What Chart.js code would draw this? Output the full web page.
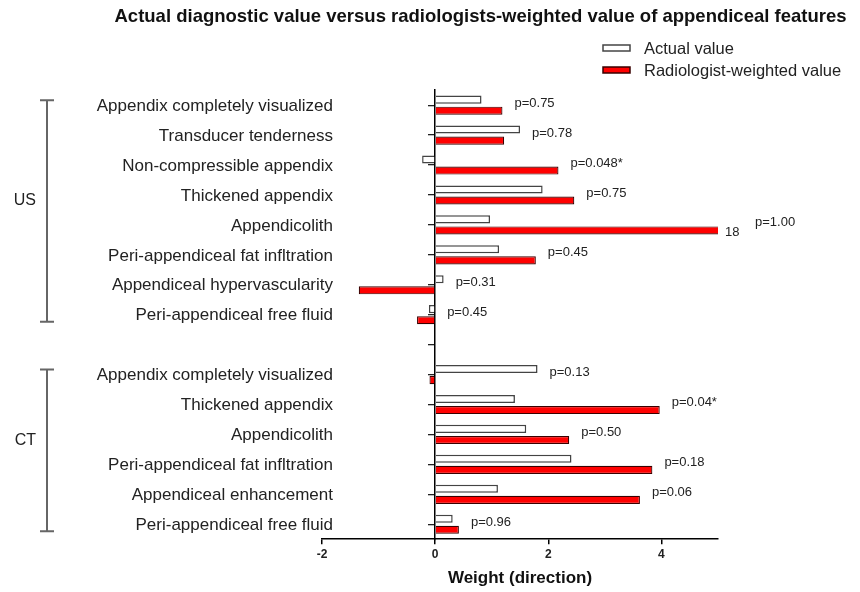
<!DOCTYPE html>
<html>
<head>
<meta charset="utf-8">
<script src="https://cdn.jsdelivr.net/npm/chart.js@4.4.1/dist/chart.umd.min.js"></script>
<style>
  html, body { margin: 0; padding: 0; background: #fff; }
  #wrap { width: 860px; height: 592px; }
</style>
</head>
<body>
<div id="wrap"><canvas id="chart"></canvas></div>
<script>
// rows top to bottom; the empty row is the gap between US and CT
const features = [
  'Appendix completely visualized', 'Transducer tenderness', 'Non-compressible appendix',
  'Thickened appendix', 'Appendicolith', 'Peri-appendiceal fat infltration',
  'Appendiceal hypervascularity', 'Peri-appendiceal free fluid',
  '',
  'Appendix completely visualized', 'Thickened appendix', 'Appendicolith',
  'Peri-appendiceal fat infltration', 'Appendiceal enhancement', 'Peri-appendiceal free fluid'
];
const actualValues = [0.82, 1.50, -0.23, 1.90, 0.97, 1.13, 0.15, -0.11, null, 1.81, 1.41, 1.61, 2.41, 1.11, 0.31];
const weightedValues = [1.19, 1.22, 2.18, 2.46, 18, 1.78, -1.35, -0.32, null, -0.10, 3.97, 2.37, 3.84, 3.62, 0.42];
const pValues = ['0.75', '0.78', '0.048*', '0.75', '1.00', '0.45', '0.31', '0.45', null,
                 '0.13', '0.04*', '0.50', '0.18', '0.06', '0.96'];
const groupNames = ['US', 'CT'];
const groupFirst = [0, 9];
const groupLast = [7, 14];
const xTicks = [-2, 0, 2, 4];

const FONT = "'Liberation Sans', Arial, sans-serif";
Chart.defaults.font.family = FONT;
Chart.defaults.color = '#222';

const extras = {
  id: 'extras',
  afterDraw(chart) {
    const ctx = chart.ctx;
    const x = chart.scales.x, y = chart.scales.y, area = chart.chartArea;
    const red = chart.getDatasetMeta(1).data;
    ctx.save();
    ctx.fillStyle = '#222';
    ctx.textBaseline = 'middle';

    // row names, right aligned a little inside the plot's left edge
    ctx.textAlign = 'right';
    ctx.font = '17px ' + FONT;
    features.forEach((name, i) => {
      if (name) ctx.fillText(name, area.left + 11, y.getPixelForValue(i) + 1);
    });

    ctx.textAlign = 'left';
    ctx.font = '13px ' + FONT;
    pValues.forEach((p, i) => {
      if (!p) return;
      const cy = y.getPixelForValue(i) - 2;
      if (weightedValues[i] > x.max) {
        ctx.fillText(String(weightedValues[i]), area.right + 7, red[i].y + 2);
        ctx.fillText('p=' + p, area.right + 37, cy);
        return;
      }
      const end = Math.max(x.getPixelForValue(0), x.getPixelForValue(actualValues[i]),
                           x.getPixelForValue(weightedValues[i]));
      ctx.fillText('p=' + p, end + 12, cy);
    });

    // US / CT brackets
    groupNames.forEach((name, g) => {
      const y1 = y.getPixelForValue(groupFirst[g]);
      const y2 = y.getPixelForValue(groupLast[g]);
      const top = y1 - 5, bottom = y2 + 7;
      ctx.strokeStyle = '#666';
      ctx.lineWidth = 2;
      ctx.beginPath();
      ctx.moveTo(47, top); ctx.lineTo(47, bottom);
      ctx.moveTo(40, top); ctx.lineTo(54, top);
      ctx.moveTo(40, bottom); ctx.lineTo(54, bottom);
      ctx.stroke();
      ctx.font = '16px ' + FONT;
      ctx.textAlign = 'right';
      ctx.fillStyle = '#222';
      ctx.fillText(name, 36, (y1 + y2) / 2 - 9);
    });

    // legend
    chart.data.datasets.forEach((ds, i) => {
      const by = 45 + i * 22;
      ctx.fillStyle = ds.backgroundColor;
      ctx.fillRect(603, by, 27, 6);
      ctx.strokeStyle = ds.borderColor;
      ctx.lineWidth = 1.5;
      ctx.strokeRect(603, by, 27, 6);
      ctx.fillStyle = '#222';
      ctx.font = '16.5px ' + FONT;
      ctx.textAlign = 'left';
      ctx.fillText(ds.label, 644, by + 4);
    });
    ctx.restore();
  }
};

new Chart(document.getElementById('chart'), {
  type: 'bar',
  data: {
    labels: features,
    datasets: [{
      label: 'Actual value',
      data: actualValues,
      backgroundColor: '#ffffff',
      borderColor: '#444444',
      borderWidth: 1.5,
      clip: {left: false, top: false, bottom: false, right: 0}
    }, {
      label: 'Radiologist-weighted value',
      data: weightedValues,
      backgroundColor: '#ff0000',
      borderColor: '#3a0000',
      borderWidth: 1.2,
      clip: {left: false, top: false, bottom: false, right: 0}
    }]
  },
  options: {
    indexAxis: 'y',
    responsive: true,
    maintainAspectRatio: false,
    animation: false,
    categoryPercentage: 0.74,
    barPercentage: 0.73,
    layout: { padding: { left: 101, right: 0, top: 0, bottom: 3 } },
    scales: {
      x: {
        type: 'linear',
        min: -2,
        max: 5,
        afterBuildTicks: (scale) => { scale.ticks = xTicks.map(v => ({ value: v })); },
        grid: { drawOnChartArea: false, color: '#000', tickLength: 5, lineWidth: 1.5 },
        border: { color: '#000', width: 1.5 },
        ticks: { padding: 3, color: '#222', font: { size: 12, weight: 'bold' } },
        title: {
          display: true,
          text: 'Weight (direction)',
          color: '#111',
          font: { size: 17, weight: 'bold' },
          padding: { top: 4, bottom: 0 }
        }
      },
      y: {
        type: 'category',
        position: { x: 0 },
        offset: true,
        grid: { offset: false, drawOnChartArea: false, color: '#222', tickLength: 6, lineWidth: 1.3 },
        border: { color: '#000', width: 1.5 },
        ticks: { display: false }
      },
      // empty room on the left for the row names and brackets
      yl: {
        type: 'category',
        labels: features,
        position: 'left',
        afterFit: (scale) => { scale.width = 322 - 101; },
        grid: { display: false, drawTicks: false },
        border: { display: false },
        ticks: { display: false }
      },
      // empty room on the right for the p-values
      yr: {
        type: 'category',
        labels: features,
        position: 'right',
        afterFit: (scale) => { scale.width = 142; },
        grid: { display: false, drawTicks: false },
        border: { display: false },
        ticks: { display: false }
      }
    },
    plugins: {
      legend: { display: false },
      tooltip: { enabled: false },
      title: {
        display: true,
        text: 'Actual diagnostic value versus radiologists-weighted value of appendiceal features',
        color: '#111',
        font: { size: 18.5, weight: 'bold' },
        padding: { top: 6, bottom: 62 }
      }
    }
  },
  plugins: [extras]
});
</script>
</body>
</html>
